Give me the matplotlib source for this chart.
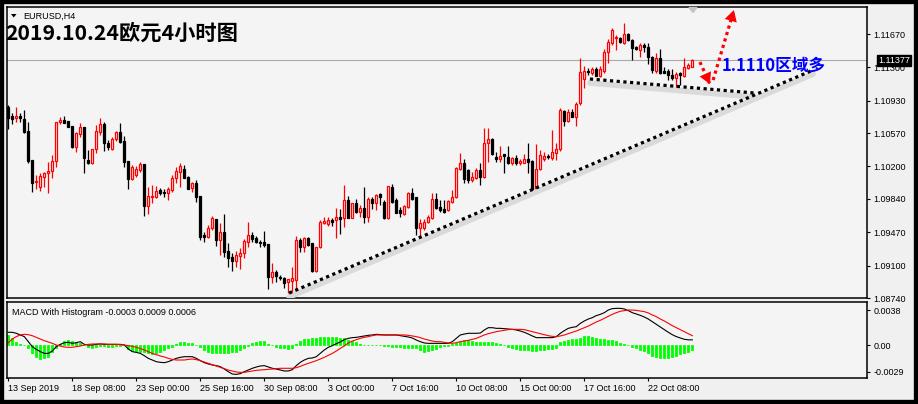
import numpy as np
import matplotlib.pyplot as plt
from matplotlib.patches import Rectangle, Polygon

plt.rcParams['font.family'] = ['Liberation Sans', 'DejaVu Sans']

# EURUSD H4 candles (bar 0 = first visible bar)
opens = [
    1.10863, 1.10759, 1.10734, 1.10759, 1.10726, 1.10593, 1.10271, 1.10023, 1.09975, 1.10086,
    1.10123, 1.10149, 1.10264, 1.10689, 1.10715, 1.10704, 1.10648, 1.10412, 1.10556, 1.10641,
    1.10271, 1.10241, 1.10389, 1.10585, 1.10667, 1.10456, 1.10393, 1.10504, 1.10578, 1.10482,
    1.10260, 1.10060, 1.10105, 1.10160, 1.10227, 1.09760, 1.09857, 1.09864, 1.09938, 1.09920,
    1.09901, 1.09938, 1.10068, 1.10141, 1.10171, 1.10086, 1.09957, 1.10019, 1.09871, 1.09439,
    1.09413, 1.09520, 1.09616, 1.09383, 1.09476, 1.09261, 1.09198, 1.09154, 1.09209, 1.09235,
    1.09365, 1.09439, 1.09409, 1.09365, 1.09357, 1.09342, 1.08976, 1.09031, 1.08976, 1.08965,
    1.08913, 1.08932, 1.08939, 1.09383, 1.09309, 1.09402, 1.09346, 1.09043, 1.09302, 1.09575,
    1.09561, 1.09605, 1.09605, 1.09635, 1.09624, 1.09827, 1.09624, 1.09790, 1.09698, 1.09735,
    1.09642, 1.09834, 1.09797, 1.09894, 1.09809, 1.09624, 1.09975, 1.09827, 1.09716, 1.09672,
    1.09753, 1.09908, 1.09857, 1.09520, 1.09520, 1.09587, 1.09624, 1.09834, 1.09746, 1.09723,
    1.09716, 1.09809, 1.09857, 1.10167, 1.10234, 1.10160, 1.10049, 1.10068, 1.10160, 1.10086,
    1.10456, 1.10504, 1.10308, 1.10278, 1.10334, 1.10301, 1.10234, 1.10297, 1.10234, 1.10241,
    1.10278, 1.10264, 1.09938, 1.10167, 1.10278, 1.10315, 1.10290, 1.10352, 1.10389, 1.10819,
    1.10708, 1.10808, 1.10752, 1.10900, 1.11166, 1.11263, 1.11233, 1.11277, 1.11207, 1.11263,
    1.11474, 1.11566, 1.11621, 1.11621, 1.11566, 1.11670, 1.11603, 1.11522, 1.11492, 1.11548,
    1.11522, 1.11418, 1.11263, 1.11400, 1.11263, 1.11259, 1.11215, 1.11178, 1.11233, 1.11203,
    1.11289, 1.11307,
]
highs = [
    1.10881, 1.10796, 1.10856, 1.10796, 1.10826, 1.10689, 1.10271, 1.10105, 1.10123, 1.10141,
    1.10253, 1.10327, 1.10697, 1.10745, 1.10759, 1.10704, 1.10648, 1.10585, 1.10678, 1.10641,
    1.10382, 1.10389, 1.10660, 1.10734, 1.10697, 1.10493, 1.10530, 1.10597, 1.10678, 1.10537,
    1.10260, 1.10216, 1.10204, 1.10253, 1.10227, 1.09975, 1.09994, 1.09982, 1.09957, 1.09945,
    1.09975, 1.10105, 1.10197, 1.10241, 1.10216, 1.10093, 1.10031, 1.10049, 1.09871, 1.09476,
    1.09550, 1.09649, 1.09616, 1.09568, 1.09672, 1.09346, 1.09235, 1.09264, 1.09290, 1.09394,
    1.09587, 1.09476, 1.09427, 1.09383, 1.09483, 1.09342, 1.09131, 1.09050, 1.08995, 1.08976,
    1.08950, 1.09087, 1.09431, 1.09402, 1.09420, 1.09413, 1.09353, 1.09309, 1.09605, 1.09635,
    1.09642, 1.09624, 1.09735, 1.09723, 1.09994, 1.09871, 1.09790, 1.09834, 1.09772, 1.09975,
    1.09864, 1.09857, 1.09894, 1.09908, 1.09827, 1.09982, 1.10005, 1.09846, 1.09746, 1.09772,
    1.09920, 1.09957, 1.09857, 1.09612, 1.09612, 1.09660, 1.09908, 1.09901, 1.09827, 1.09827,
    1.09827, 1.09938, 1.10197, 1.10345, 1.10278, 1.10167, 1.10141, 1.10180, 1.10234, 1.10623,
    1.10623, 1.10512, 1.10364, 1.10426, 1.10334, 1.10426, 1.10308, 1.10327, 1.10278, 1.10334,
    1.10456, 1.10271, 1.10449, 1.10382, 1.10364, 1.10334, 1.10604, 1.10456, 1.10845, 1.10826,
    1.10833, 1.10833, 1.10919, 1.11400, 1.11314, 1.11289, 1.11300, 1.11307, 1.11314, 1.11499,
    1.11610, 1.11733, 1.11659, 1.11633, 1.11788, 1.11684, 1.11610, 1.11536, 1.11566, 1.11573,
    1.11566, 1.11425, 1.11462, 1.11499, 1.11300, 1.11277, 1.11277, 1.11252, 1.11252, 1.11400,
    1.11344, 1.11388,
]
lows = [
    1.10611, 1.10667, 1.10697, 1.10697, 1.10574, 1.10241, 1.09920, 1.09945, 1.09931, 1.09975,
    1.09901, 1.10068, 1.10197, 1.10667, 1.10678, 1.10641, 1.10408, 1.10364, 1.10530, 1.10130,
    1.10227, 1.10227, 1.10345, 1.10548, 1.10375, 1.10382, 1.10382, 1.10486, 1.10456, 1.10190,
    1.09949, 1.10049, 1.10079, 1.10141, 1.09649, 1.09668, 1.09790, 1.09846, 1.09883, 1.09864,
    1.09827, 1.09920, 1.10012, 1.09968, 1.10068, 1.09945, 1.09920, 1.09809, 1.09383, 1.09365,
    1.09402, 1.09494, 1.09316, 1.09217, 1.09198, 1.09087, 1.09039, 1.09087, 1.09057, 1.09187,
    1.09309, 1.09365, 1.09353, 1.09309, 1.09309, 1.08839, 1.08902, 1.08920, 1.08939, 1.08854,
    1.08791, 1.08809, 1.08809, 1.09254, 1.09254, 1.09317, 1.09032, 1.09032, 1.09291, 1.09561,
    1.09538, 1.09538, 1.09402, 1.09446, 1.09524, 1.09624, 1.09624, 1.09679, 1.09642, 1.09568,
    1.09587, 1.09723, 1.09716, 1.09772, 1.09612, 1.09612, 1.09790, 1.09679, 1.09642, 1.09660,
    1.09742, 1.09827, 1.09439, 1.09427, 1.09494, 1.09568, 1.09612, 1.09723, 1.09698, 1.09679,
    1.09709, 1.09797, 1.09846, 1.10160, 1.10012, 1.10019, 1.10031, 1.10056, 1.09994, 1.10068,
    1.10253, 1.10327, 1.10253, 1.10253, 1.10123, 1.10227, 1.10216, 1.10216, 1.10216, 1.10234,
    1.10123, 1.09920, 1.09908, 1.10160, 1.10264, 1.10278, 1.10271, 1.10271, 1.10375, 1.10648,
    1.10697, 1.10745, 1.10648, 1.10882, 1.11067, 1.11215, 1.11215, 1.11203, 1.11196, 1.11233,
    1.11344, 1.11548, 1.11492, 1.11566, 1.11559, 1.11596, 1.11381, 1.11492, 1.11418, 1.11474,
    1.11337, 1.11233, 1.11233, 1.11226, 1.11233, 1.11159, 1.11159, 1.11055, 1.11104, 1.11196,
    1.11277, 1.11300,
]
closes = [
    1.10734, 1.10722, 1.10759, 1.10734, 1.10585, 1.10264, 1.10019, 1.10042, 1.10093, 1.10123,
    1.10149, 1.10264, 1.10689, 1.10715, 1.10685, 1.10641, 1.10419, 1.10567, 1.10634, 1.10290,
    1.10241, 1.10389, 1.10593, 1.10667, 1.10456, 1.10412, 1.10504, 1.10578, 1.10475, 1.10253,
    1.10060, 1.10190, 1.10171, 1.10227, 1.09760, 1.09871, 1.09871, 1.09931, 1.09908, 1.09901,
    1.09945, 1.10075, 1.10149, 1.10204, 1.10068, 1.09949, 1.10012, 1.09857, 1.09420, 1.09420,
    1.09520, 1.09624, 1.09383, 1.09468, 1.09254, 1.09187, 1.09154, 1.09220, 1.09242, 1.09372,
    1.09439, 1.09394, 1.09365, 1.09353, 1.09328, 1.08976, 1.09024, 1.08983, 1.08958, 1.08902,
    1.08946, 1.08958, 1.09383, 1.09309, 1.09402, 1.09328, 1.09043, 1.09302, 1.09587, 1.09594,
    1.09605, 1.09587, 1.09642, 1.09612, 1.09827, 1.09624, 1.09790, 1.09698, 1.09735, 1.09642,
    1.09834, 1.09797, 1.09883, 1.09864, 1.09624, 1.09982, 1.09809, 1.09686, 1.09686, 1.09760,
    1.09908, 1.09834, 1.09520, 1.09568, 1.09587, 1.09635, 1.09834, 1.09735, 1.09716, 1.09698,
    1.09816, 1.09857, 1.10180, 1.10241, 1.10056, 1.10049, 1.10079, 1.10160, 1.10086, 1.10456,
    1.10504, 1.10334, 1.10278, 1.10315, 1.10315, 1.10234, 1.10297, 1.10234, 1.10264, 1.10282,
    1.10253, 1.09938, 1.10167, 1.10327, 1.10315, 1.10301, 1.10364, 1.10389, 1.10826, 1.10708,
    1.10808, 1.10752, 1.10893, 1.11252, 1.11263, 1.11244, 1.11281, 1.11207, 1.11277, 1.11474,
    1.11584, 1.11714, 1.11640, 1.11577, 1.11670, 1.11603, 1.11511, 1.11499, 1.11548, 1.11522,
    1.11418, 1.11270, 1.11400, 1.11240, 1.11240, 1.11215, 1.11178, 1.11226, 1.11215, 1.11300,
    1.11326, 1.11377,
]

# MACD with histogram panel
macd_main = [
    0.00138, 0.00138, 0.00127, 0.00109, 0.00091, 0.00036, -0.00018, -0.00047, -0.00072, -0.00091,
    -0.00091, -0.00065, -0.00018, 0.00007, 0.00025, 0.00029, 0.00018, 0.00025, 0.00036, 0.00007,
    0.0, 0.0, 0.00007, 0.00011, 0.00007, 0.00007, 0.00007, 0.00007, 0.00007, 0.0,
    -0.00043, -0.00072, -0.00080, -0.00091, -0.00116, -0.00145, -0.00163, -0.00181, -0.00188, -0.00192,
    -0.00181, -0.00163, -0.00145, -0.00134, -0.00127, -0.00127, -0.00127, -0.00145, -0.00170, -0.00192,
    -0.00206, -0.00217, -0.00224, -0.00235, -0.00261, -0.00290, -0.00315, -0.00319, -0.00311, -0.00290,
    -0.00272, -0.00253, -0.00239, -0.00228, -0.00224, -0.00239, -0.00253, -0.00261, -0.00272, -0.00282,
    -0.00282, -0.00268, -0.00224, -0.00188, -0.00163, -0.00145, -0.00141, -0.00127, -0.00091, -0.00054,
    -0.00025, -0.00007, 0.00014, 0.00033, 0.00058, 0.00072, 0.00080, 0.00083, 0.00091, 0.00098,
    0.00105, 0.00109, 0.00116, 0.00112, 0.00109, 0.00109, 0.00109, 0.00109, 0.00101, 0.00094,
    0.00087, 0.00076, 0.00054, 0.00036, 0.00022, 0.00018, 0.00018, 0.00018, 0.00018, 0.00018,
    0.00018, 0.00036, 0.00072, 0.00109, 0.00119, 0.00127, 0.00127, 0.00127, 0.00130, 0.00163,
    0.00188, 0.00188, 0.00181, 0.00181, 0.00177, 0.00174, 0.00170, 0.00163, 0.00152, 0.00138,
    0.00119, 0.00098, 0.00080, 0.00080, 0.00080, 0.00080, 0.00080, 0.00091, 0.00127, 0.00156,
    0.00181, 0.00192, 0.00199, 0.00235, 0.00261, 0.00282, 0.00297, 0.00319, 0.00333, 0.00351,
    0.00380, 0.00395, 0.00398, 0.00398, 0.00391, 0.00373, 0.00351, 0.00337, 0.00322, 0.00304,
    0.00282, 0.00253, 0.00224, 0.00195, 0.00167, 0.00138, 0.00112, 0.00091, 0.00076, 0.00062,
    0.00056, 0.00056,
]
macd_signal = [
    0.00025, 0.00065, 0.00091, 0.00109, 0.00116, 0.00112, 0.00101, 0.00083, 0.00065, 0.00047,
    0.00033, 0.00018, 0.0, -0.00011, -0.00022, -0.00025, -0.00025, -0.00018, -0.00011, 0.0,
    0.00007, 0.00011, 0.00011, 0.00011, 0.00011, 0.00007, 0.00007, 0.00007, 0.00004, 0.0,
    -0.00007, -0.00014, -0.00025, -0.00040, -0.00054, -0.00072, -0.00091, -0.00105, -0.00119, -0.00130,
    -0.00145, -0.00156, -0.00163, -0.00163, -0.00163, -0.00156, -0.00152, -0.00159, -0.00170, -0.00185,
    -0.00199, -0.00214, -0.00228, -0.00243, -0.00257, -0.00272, -0.00282, -0.00293, -0.00297, -0.00297,
    -0.00290, -0.00282, -0.00275, -0.00272, -0.00268, -0.00264, -0.00261, -0.00257, -0.00253, -0.00253,
    -0.00253, -0.00253, -0.00246, -0.00232, -0.00214, -0.00199, -0.00185, -0.00170, -0.00152, -0.00134,
    -0.00112, -0.00091, -0.00065, -0.00036, -0.00011, 0.00022, 0.00043, 0.00058, 0.00072, 0.00083,
    0.00091, 0.00101, 0.00109, 0.00109, 0.00109, 0.00109, 0.00109, 0.00109, 0.00109, 0.00109,
    0.00105, 0.00098, 0.00091, 0.00080, 0.00065, 0.00054, 0.00043, 0.00036, 0.00036, 0.00029,
    0.00022, 0.00018, 0.00025, 0.00036, 0.00043, 0.00051, 0.00062, 0.00072, 0.00091, 0.00109,
    0.00123, 0.00134, 0.00145, 0.00152, 0.00159, 0.00167, 0.00170, 0.00170, 0.00170, 0.00167,
    0.00156, 0.00145, 0.00134, 0.00123, 0.00112, 0.00101, 0.00094, 0.00091, 0.00098, 0.00109,
    0.00123, 0.00138, 0.00152, 0.00170, 0.00188, 0.00206, 0.00228, 0.00250, 0.00268, 0.00290,
    0.00311, 0.00333, 0.00351, 0.00366, 0.00373, 0.00380, 0.00380, 0.00376, 0.00369, 0.00362,
    0.00348, 0.00326, 0.00308, 0.00282, 0.00261, 0.00235, 0.00210, 0.00188, 0.00167, 0.00145,
    0.00123, 0.00101,
]
macd_hist = [
    0.00109, 0.00080, 0.00036, 0.00007, 0.0, -0.00029, -0.00091, -0.00127, -0.00152, -0.00145,
    -0.00127, -0.00080, -0.00036, 0.00007, 0.00043, 0.00051, 0.00043, 0.00036, 0.00018, 0.0,
    -0.00018, -0.00036, -0.00018, -0.00007, -0.00011, -0.00018, -0.00018, -0.00011, -0.00007, 0.0,
    -0.00043, -0.00065, -0.00080, -0.00072, -0.00080, -0.00091, -0.00101, -0.00091, -0.00072, -0.00054,
    -0.00036, -0.00018, 0.00007, 0.00029, 0.00029, 0.00018, 0.00018, 0.0, -0.00018, -0.00054,
    -0.00080, -0.00091, -0.00091, -0.00091, -0.00091, -0.00091, -0.00080, -0.00072, -0.00054, -0.00029,
    -0.00007, 0.00018, 0.00036, 0.00043, 0.00043, 0.00007, 0.0, -0.00018, -0.00029, -0.00036,
    -0.00043, -0.00029, 0.00007, 0.00043, 0.00062, 0.00065, 0.00072, 0.00080, 0.00091, 0.00091,
    0.00091, 0.00091, 0.00083, 0.00072, 0.00072, 0.00054, 0.00043, 0.00029, 0.00007, 0.0,
    0.0, 0.0, 0.0, 0.0, -0.00007, -0.00007, -0.00018, -0.00018, -0.00018, -0.00029,
    -0.00029, -0.00029, -0.00036, -0.00054, -0.00072, -0.00065, -0.00054, -0.00043, -0.00018, -0.00007,
    -0.00007, 0.00007, 0.00018, 0.00036, 0.00054, 0.00054, 0.00043, 0.00029, 0.00029, 0.00036,
    0.00036, 0.00029, 0.00018, 0.00007, 0.0, -0.00018, -0.00036, -0.00043, -0.00054, -0.00054,
    -0.00054, -0.00065, -0.00065, -0.00054, -0.00054, -0.00043, -0.00043, -0.00029, 0.00036, 0.00043,
    0.00054, 0.00062, 0.00065, 0.00080, 0.00101, 0.00101, 0.00091, 0.00072, 0.00062, 0.00062,
    0.00054, 0.00054, 0.00043, 0.00018, 0.00007, 0.0, -0.00018, -0.00036, -0.00054, -0.00065,
    -0.00091, -0.00116, -0.00127, -0.00138, -0.00138, -0.00138, -0.00127, -0.00116, -0.00101, -0.00091,
    -0.00080, -0.00054,
]

price_ticks = [1.11670, 1.11300, 1.10930, 1.10570, 1.10200, 1.09840, 1.09470, 1.09100, 1.08740]
macd_ticks = [0.0038, 0.0, -0.0029]
macd_tick_labels = ["0.0038", "0.00", "-0.0029"]
date_bars = [0, 16, 32, 48, 64, 80, 96, 112, 128, 144, 160]
date_labels = ["13 Sep 2019", "18 Sep 08:00", "23 Sep 00:00", "25 Sep 16:00", "30 Sep 08:00",
               "3 Oct 00:00", "7 Oct 16:00", "10 Oct 08:00", "15 Oct 00:00", "17 Oct 16:00",
               "22 Oct 08:00"]
last_price = 1.11377

# hand drawn marks on the chart: (bar index, price)
support_x, support_y = [70.2, 201.2], [1.08795, 1.11270]
resist_x, resist_y = [145.4, 186.7], [1.11171, 1.11015]
arrow_down_x, arrow_down_y = [172.9, 175.4], [1.11359, 1.11115]
arrow_up_x, arrow_up_y = [176.2, 181.4], [1.11159, 1.11936]
note_x, note_y = 178.4, 1.11315

W, H = 918, 404
BG = '#f4f4f4'

def px(x, y):
    return (x / W, 1 - y / H)

fig = plt.figure(figsize=(W / 100, H / 100), dpi=100, facecolor='#f0f0f0')
ax = fig.add_axes([7 / W, 1 - 298 / H, 860 / W, 291 / H], facecolor=BG)
axm = fig.add_axes([7 / W, 1 - 378 / H, 860 / W, 76 / H], facecolor=BG, sharex=ax)

# candles
x = np.arange(len(closes))
o, c = np.array(opens), np.array(closes)
hi, lo = np.array(highs), np.array(lows)
up = c >= o
ax.vlines(x, lo, hi, colors=np.where(up, 'red', 'black'), lw=0.9, zorder=2)
body_lo = np.minimum(o, c)
body_h = np.abs(c - o)
ax.bar(x[up], body_h[up], bottom=body_lo[up], width=0.5, facecolor=BG,
       edgecolor='red', linewidth=0.9, zorder=3)
ax.bar(x[~up], body_h[~up], bottom=body_lo[~up], width=0.5, facecolor='black',
       edgecolor='black', linewidth=0.9, zorder=3)

ax.axhline(last_price, color='#aaaaaa', lw=0.8, zorder=1)

# trend lines with a soft shadow
for tx, ty in ((support_x, support_y), (resist_x, resist_y)):
    ax.plot(tx, np.array(ty) - 0.00045, color='#dadada', lw=4, solid_capstyle='round', zorder=4)
    ax.plot(tx, ty, color='black', lw=2.3, linestyle=(0, (1, 1.1)), zorder=5)

# red dotted arrows
for tx, ty in ((arrow_down_x, arrow_down_y), (arrow_up_x, arrow_up_y)):
    ax.plot(tx, ty, color='red', lw=2.3, linestyle=(0, (1, 1.1)), zorder=6)
    ax.annotate('', xy=(tx[1], ty[1]), xytext=(tx[0], ty[0]),
                arrowprops=dict(arrowstyle='-|>,head_length=0.8,head_width=0.45',
                                color='red', lw=0, shrinkA=0, shrinkB=0), zorder=7)

ax.text(note_x, note_y, '1.1110区域多', color='#0000ff', fontsize=12, fontweight='bold',
        family=['Noto Sans CJK SC', 'DejaVu Sans'], ha='left', va='center', zorder=8)

ax.set_xlim(-0.325, 214.67)
ax.set_ylim(1.08740, 1.11970)
ax.yaxis.tick_right()
ax.set_yticks(price_ticks)
ax.set_yticklabels([f'{p:.5f}' for p in price_ticks])
ax.tick_params(axis='y', direction='out', length=2.5, width=0.8, pad=2, labelsize=6.5)
ax.tick_params(axis='x', bottom=False, labelbottom=False)

# current price tag
ax.text(1.0128, last_price, f'{last_price:.5f}', transform=ax.get_yaxis_transform(),
        color='white', fontsize=6.5, ha='left', va='center', zorder=10,
        bbox=dict(boxstyle='square,pad=0.12', fc='black', ec='black'))

# MACD panel
axm.bar(x, macd_hist, width=0.45, color='#00ff00', edgecolor='#00ff00', linewidth=0.6, zorder=2)
axm.plot(x, macd_main, color='black', lw=0.8, zorder=3)
axm.plot(x, macd_signal, color='red', lw=0.8, zorder=3)
axm.set_ylim(-0.003583, 0.004669)
axm.yaxis.tick_right()
axm.set_yticks(macd_ticks)
axm.set_yticklabels(macd_tick_labels)
axm.tick_params(axis='y', direction='out', length=2.5, width=0.8, pad=2, labelsize=6.5)
axm.set_xticks(date_bars)
axm.set_xticklabels(date_labels, ha='left')
axm.tick_params(axis='x', direction='out', length=2.5, width=0.8, pad=1.5, labelsize=6.5)
axm.text(0.006, 0.868, 'MACD With Histogram -0.0003 0.0009 0.0006', transform=axm.transAxes,
         fontsize=6.5, ha='left', va='center')

for a in (ax, axm):
    for s in a.spines.values():
        s.set_linewidth(1.1)
        s.set_color('black')

# header texts
fig.add_artist(Polygon([px(11, 14), px(16.5, 14), px(13.75, 17.5)], closed=True,
                       transform=fig.transFigure, color='black', lw=0))
fig.text(*px(23, 16), 'EURUSD,H4', fontsize=6.5, ha='left', va='center')
fig.add_artist(Polygon([px(689, 7.5), px(697, 7.5), px(693, 12.5)], closed=True,
                       transform=fig.transFigure, color='#c4c4c4'))
fig.text(*px(5, 33), '2019.10.24欧元4小时图', fontsize=15.3, fontweight='bold',
         family=['Noto Sans CJK SC', 'DejaVu Sans'], ha='left', va='center')

# window frame
fig.add_artist(Rectangle((0, 0), 1, 1, transform=fig.transFigure, fill=False,
                         edgecolor='black', lw=6))

fig.savefig('out.png', dpi=100, facecolor=fig.get_facecolor())
